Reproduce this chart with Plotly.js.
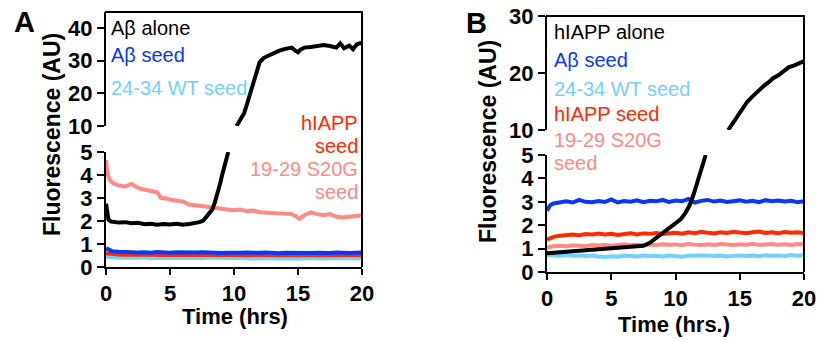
<!DOCTYPE html>
<html>
<head>
<meta charset="utf-8">
<script src="https://cdn.plot.ly/plotly-3.0.1.min.js"></script>
<style>html,body{margin:0;padding:0;background:#fff;}#chart{width:820px;height:341px;}</style>
</head>
<body>
<div id="chart"></div>
<script>
// ---------- Panel A data ----------
var tA = [0,0.5,1,1.5,2,2.5,3,3.5,4,4.5,5,5.5,6,6.5,7,7.5,8,8.5,9,9.5,10,10.5,11,11.5,12,12.5,13,13.5,14,14.5,15,15.5,16,16.5,17,17.5,18,18.5,19,19.5,20];
var aBetaSeedA = [0.82,0.68,0.66,0.64,0.65,0.63,0.64,0.62,0.65,0.63,0.62,0.64,0.63,0.61,0.63,0.64,0.62,0.63,0.61,0.62,0.64,0.62,0.63,0.61,0.62,0.63,0.61,0.6,0.62,0.61,0.63,0.6,0.61,0.62,0.6,0.61,0.63,0.6,0.61,0.62,0.63];
var hiappSeedA = [0.6,0.55,0.54,0.53,0.54,0.52,0.53,0.54,0.52,0.53,0.52,0.54,0.53,0.52,0.51,0.53,0.52,0.53,0.52,0.51,0.53,0.52,0.51,0.52,0.53,0.51,0.52,0.51,0.53,0.52,0.51,0.52,0.51,0.53,0.52,0.51,0.52,0.53,0.51,0.52,0.52];
var wtSeedA = [0.45,0.42,0.4,0.41,0.39,0.4,0.42,0.38,0.4,0.39,0.41,0.4,0.38,0.39,0.4,0.38,0.41,0.39,0.37,0.39,0.4,0.38,0.39,0.37,0.38,0.4,0.38,0.37,0.39,0.38,0.36,0.38,0.39,0.37,0.38,0.36,0.38,0.37,0.39,0.37,0.38];
var tS20GA = [0,0.1,0.3,0.6,1,1.5,2,2.3,2.7,3,3.5,4,4.3,4.7,5,5.5,6,6.5,7,7.5,8,8.5,9,9.5,10,10.5,11,11.5,12,12.5,13,13.5,14,14.5,14.8,15.1,15.5,16,16.5,17,17.5,18,18.5,19,19.5,20];
var s20gSeedA = [4.64,4.05,3.78,3.62,3.55,3.5,3.62,3.5,3.4,3.36,3.3,3.25,3.0,2.98,2.92,2.9,2.85,2.72,2.68,2.62,2.6,2.58,2.52,2.5,2.47,2.5,2.42,2.45,2.38,2.36,2.33,2.32,2.3,2.3,2.22,2.1,2.25,2.38,2.3,2.25,2.3,2.18,2.15,2.2,2.22,2.25];
var tAloneLowA = [0,0.1,0.2,0.4,0.7,1,1.5,2,2.5,3,3.5,4,4.5,5,5.5,6,6.5,7,7.3,7.6,7.9,8.1,8.3,8.5,8.7,8.9,9.1,9.3,9.45,9.55];
var aloneLowA = [2.75,2.3,2.05,1.98,1.95,1.93,1.95,1.9,1.92,1.86,1.88,1.84,1.87,1.85,1.88,1.84,1.87,1.9,1.95,2.02,2.2,2.35,2.5,2.8,3.15,3.6,4.05,4.45,4.75,5.0];
var tAloneHighA = [10.2,10.5,10.8,11.0,11.2,11.4,11.6,11.8,12.0,12.3,12.6,13.0,13.5,14.0,14.5,14.8,15.0,15.2,15.5,16,16.5,17,17.5,18,18.3,18.6,19,19.3,19.6,20];
var aloneHighA = [10,12,14,16.5,19,21.5,24,27,29.5,30.8,31.3,32.3,33.0,33.6,34.0,33.0,32.6,33.4,34,34.2,34.6,34.8,34.5,34,35.3,33.8,34.6,33.5,35,35.5];

// ---------- Panel B data ----------
var tB = [0,0.25,0.5,1,1.5,2,2.5,3,3.5,4,4.5,5,5.5,6,6.5,7,7.5,8,8.5,9,9.5,10,10.5,11,11.5,12,12.5,13,13.5,14,14.5,15,15.5,16,16.5,17,17.5,18,18.5,19,19.5,20];
var aBetaSeedB = [2.62,2.85,2.93,2.98,3.02,2.97,3.08,3.0,2.98,3.03,2.99,3.1,2.97,3.03,3.0,3.06,2.98,3.04,3.02,3.08,2.99,3.05,3.02,3.12,2.97,3.04,3.08,3.01,3.05,2.99,3.03,3.06,3.0,3.04,2.98,3.07,3.02,3.05,3.01,3.04,2.98,3.02];
var hiappSeedB = [1.38,1.45,1.5,1.55,1.58,1.6,1.57,1.62,1.6,1.64,1.6,1.63,1.58,1.62,1.66,1.6,1.65,1.63,1.67,1.62,1.65,1.68,1.64,1.7,1.66,1.72,1.68,1.65,1.7,1.67,1.72,1.68,1.66,1.7,1.73,1.67,1.7,1.66,1.71,1.68,1.7,1.67];
var s20gSeedB = [1.05,1.08,1.1,1.12,1.1,1.14,1.12,1.1,1.15,1.13,1.16,1.12,1.15,1.18,1.14,1.16,1.13,1.17,1.15,1.19,1.16,1.18,1.14,1.2,1.17,1.15,1.19,1.16,1.2,1.17,1.15,1.19,1.17,1.21,1.16,1.18,1.2,1.17,1.19,1.16,1.2,1.19];
var wtSeedB = [0.72,0.7,0.72,0.7,0.73,0.69,0.71,0.68,0.7,0.66,0.64,0.67,0.65,0.7,0.68,0.66,0.7,0.67,0.69,0.66,0.7,0.68,0.65,0.69,0.7,0.67,0.71,0.68,0.7,0.66,0.69,0.71,0.68,0.7,0.67,0.72,0.69,0.71,0.68,0.73,0.7,0.72];
var tAloneLowB = [0,0.5,1,1.5,2,2.5,3,3.5,4,4.5,5,5.5,6,6.5,7,7.5,8,8.5,9,9.5,10,10.4,10.8,11.1,11.4,11.7,12.0,12.2,12.35];
var aloneLowB = [0.8,0.82,0.84,0.86,0.88,0.9,0.93,0.97,0.98,1.0,1.0,1.02,1.03,1.05,1.08,1.12,1.25,1.45,1.65,1.85,2.05,2.25,2.55,2.85,3.3,3.8,4.35,4.7,5.0];
var tAloneHighB = [14.1,14.4,14.8,15.2,15.6,16.0,16.4,16.8,17.2,17.6,18.0,18.4,18.8,19.2,19.6,20];
var aloneHighB = [10,11,12.3,13.6,15,15.9,16.8,17.6,18.3,19.1,19.6,20.4,21,21.3,21.7,22.1];

// ---------- Labels ----------
var xTicks = [0,5,10,15,20];
var yLowTicks = [0,1,2,3,4,5];
var yHighTicksA = [10,20,30,40];
var yHighTicksB = [10,20,30];
var legendA = ["A\u03b2 alone","A\u03b2 seed","24-34 WT seed"];
var legendARight = ["hIAPP","seed","19-29 S20G","seed"];
var legendB = ["hIAPP alone","A\u03b2 seed","24-34 WT seed","hIAPP seed","19-29 S20G","seed"];

var C = {black:"#000000", blue:"#0a37f5", light:"#72d0fb", red:"#ff2a00", salmon:"#ff8a82"};
var FONT = "Liberation Sans, Arial, Helvetica, sans-serif";
var W = 820, H = 341;
function px(x){return x/W;}
function py(y){return (H-y)/H;}
function bold(arr){return arr.map(function(v){return "<b>"+v+"</b>";});}

function tr(x,y,color,xa,ya){
  return {x:x,y:y,type:"scatter",mode:"lines",line:{color:color,width:4},xaxis:xa,yaxis:ya,hoverinfo:"skip",showlegend:false};
}

var data = [
  tr(tA,wtSeedA,C.light,"x","y"),
  tr(tA,hiappSeedA,C.red,"x","y"),
  tr(tA,aBetaSeedA,C.blue,"x","y"),
  tr(tS20GA,s20gSeedA,C.salmon,"x","y"),
  tr(tAloneLowA,aloneLowA,C.black,"x","y"),
  tr(tAloneHighA,aloneHighA,C.black,"x","y2"),
  tr(tB,wtSeedB,C.light,"x2","y3"),
  tr(tB,s20gSeedB,C.salmon,"x2","y3"),
  tr(tB,hiappSeedB,C.red,"x2","y3"),
  tr(tB,aBetaSeedB,C.blue,"x2","y3"),
  tr(tAloneLowB,aloneLowB,C.black,"x2","y3"),
  tr(tAloneHighB,aloneHighB,C.black,"x2","y4")
];

var tickFont = {family:FONT,size:22,color:"#000"};
function axisBase(vals){
  return {showline:true,linecolor:"#000",linewidth:2,ticks:"outside",ticklen:7,tickwidth:2,tickcolor:"#000",
          showgrid:false,zeroline:false,tickfont:tickFont,fixedrange:true,
          tickmode:"array",tickvals:vals,ticktext:bold(vals)};
}

var xa = Object.assign(axisBase(xTicks),{domain:[px(106),px(362)],range:[0,20],anchor:"y",ticklen:6});
var xa2 = Object.assign(axisBase(xTicks),{domain:[px(547),px(804)],range:[0,20],anchor:"y3",ticklen:6});
var ya = Object.assign(axisBase(yLowTicks),{domain:[py(267),py(152)],range:[0,5],anchor:"x"});
var ya2 = Object.assign(axisBase(yHighTicksA),{domain:[py(126),py(12)],range:[10,44.9],anchor:"x"});
var ya3 = Object.assign(axisBase(yLowTicks),{domain:[py(272),py(155)],range:[0,5],anchor:"x2"});
var ya4 = Object.assign(axisBase(yHighTicksB),{domain:[py(130),py(16)],range:[10,30],anchor:"x2"});

function ann(text,x,y,opts){
  return Object.assign({text:text,x:px(x),y:py(y),xref:"paper",yref:"paper",showarrow:false,
    xanchor:"left",yanchor:"middle",font:{family:FONT,size:20,color:"#000"}},opts||{});
}
var anns = [];
var colsA = [C.black,C.blue,C.light];
var ysA = [28,55,88];
legendA.forEach(function(t,i){anns.push(ann(t,109,ysA[i],{font:{family:FONT,size:20,color:colsA[i]}}));});
var colsAR = [C.red,C.red,C.salmon,C.salmon];
var ysAR = [123,146,169,192];
legendARight.forEach(function(t,i){anns.push(ann(t,360,ysAR[i],{xanchor:"right",font:{family:FONT,size:20,color:colsAR[i]}}));});
var colsB = [C.black,C.blue,C.light,C.red,C.salmon,C.salmon];
var ysB = [32,60,89,114,140,163];
legendB.forEach(function(t,i){anns.push(ann(t,552,ysB[i],{font:{family:FONT,size:20,color:colsB[i]}}));});

// titles
var boldT = {family:FONT,size:22,color:"#000",weight:"bold"};
anns.push(ann("<b>Fluorescence (AU)</b>",52,135,{xanchor:"center",textangle:-90,font:{family:FONT,size:23,color:"#000",weight:"bold"}}));
anns.push(ann("<b>Fluorescence (AU)</b>",488,142,{xanchor:"center",textangle:-90,font:{family:FONT,size:23,color:"#000",weight:"bold"}}));
anns.push(ann("<b>Time (hrs)</b>",235,316,{xanchor:"center",font:boldT}));
anns.push(ann("<b>Time (hrs.)</b>",674,324,{xanchor:"center",font:boldT}));
anns.push(ann("<b>A</b>",24,22,{xanchor:"center",font:{family:FONT,size:29,color:"#000",weight:"bold"}}));
anns.push(ann("<b>B</b>",477,23,{xanchor:"center",font:{family:FONT,size:29,color:"#000",weight:"bold"}}));

function ln(x0,y0,x1,y1){
  return {type:"line",xref:"paper",yref:"paper",x0:px(x0),y0:py(y0),x1:px(x1),y1:py(y1),line:{color:"#000",width:2}};
}
var shapes = [
  ln(105,12,363,12), ln(362,12,362,267),
  ln(546,16,805,16), ln(804,16,804,272)
];

var layout = {
  width:W,height:H,margin:{l:0,r:0,t:0,b:0},paper_bgcolor:"#fff",plot_bgcolor:"rgba(0,0,0,0)",
  showlegend:false,
  xaxis:xa,xaxis2:xa2,yaxis:ya,yaxis2:ya2,yaxis3:ya3,yaxis4:ya4,
  annotations:anns,shapes:shapes,font:{family:FONT}
};
Plotly.newPlot("chart",data,layout,{staticPlot:true,displayModeBar:false});
</script>
</body>
</html>
